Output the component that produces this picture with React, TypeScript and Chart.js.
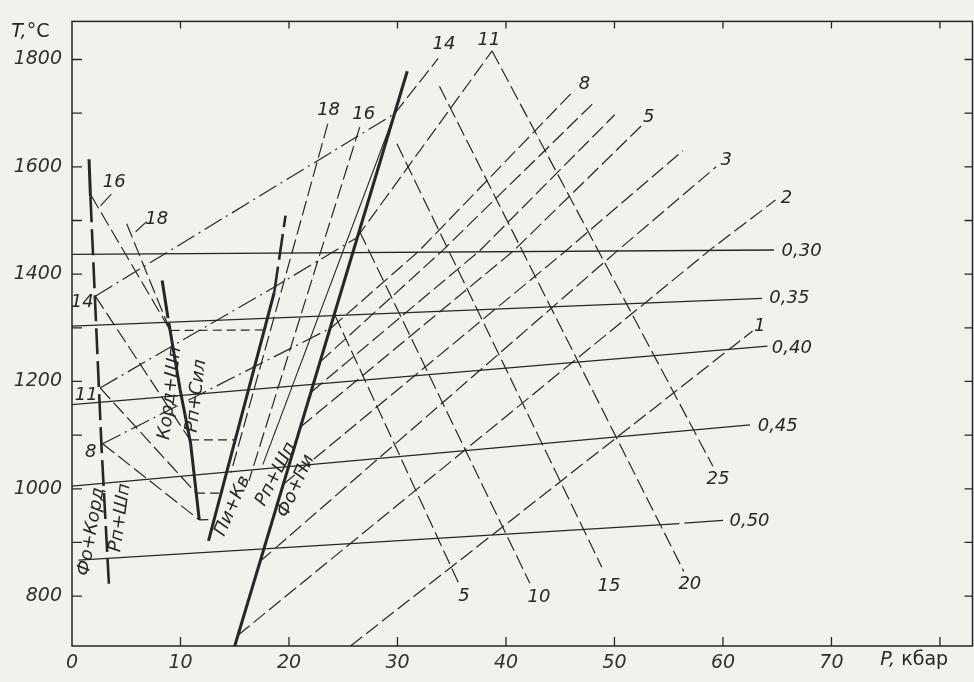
import React, { useEffect, useRef } from 'react';
import { Chart, registerables } from 'chart.js';

Chart.register(...registerables);

type Pt = [number, number];

// ---- axes ----
const X_MIN = 0;
const X_MAX = 83;
const Y_MIN = 707;
const Y_MAX = 1871;
const X_TICK_LABELS = [0, 10, 20, 30, 40, 50, 60, 70];
const X_MINOR_TICKS = [10, 20, 30, 40, 50, 60, 70, 80];
const Y_TICK_LABELS = [800, 1000, 1200, 1400, 1600, 1800];
const Y_MINOR_TICKS = [800, 900, 1000, 1100, 1200, 1300, 1400, 1500, 1600, 1700, 1800];

// ---- isolines (solid, labelled 0,30 ... 0,50) ----
const ISO_030: Pt[] = [[0, 1437], [64.7, 1445]];
const ISO_035: Pt[] = [[0, 1303], [63.6, 1355]];
const ISO_040: Pt[] = [[0, 1157], [64.1, 1266]];
const ISO_045: Pt[] = [[0, 1005], [62.5, 1119]];
const ISO_050: Pt[] = [[0.6, 867], [55.98, 935]];
const ISO_050_END: Pt[] = [[56.44, 936], [60.0, 941]];

// ---- thick boundaries ----
const BND_FO_PI: Pt[] = [[15.0, 707], [30.9, 1778]];
const BND_PI_KV: Pt[] = [[12.58, 903], [18.64, 1366]];
const BND_PI_KV_TOP: Pt[] = [[18.64, 1366], [19.68, 1509]];
const BND_KORD_TOP: Pt[] = [[8.31, 1388], [8.85, 1318]];
const BND_KORD: Pt[] = [[8.92, 1310], [9.97, 1184], [10.93, 1085], [11.73, 942]];
const BND_FO_KORD_TOP: Pt[] = [[1.57, 1614], [1.70, 1545]];
const BND_FO_KORD: Pt[] = [[1.70, 1545], [2.73, 1074], [3.40, 823]];

// ---- dash-dot isopleths ----
const DD_14: Pt[] = [[2.15, 1359], [29.74, 1699]];
const DD_11: Pt[] = [[2.59, 1188], [18.73, 1377], [26.25, 1468]];
const DD_8: Pt[] = [[2.82, 1084], [23.9, 1300]];

// ---- left fan (dashed) ----
const LD_16: Pt[] = [[1.75, 1547], [9.0, 1297]];
const LD_18: Pt[] = [[5.04, 1494], [9.0, 1297]];
const LD_14: Pt[] = [[2.15, 1359], [10.88, 1091]];
const LD_11: Pt[] = [[2.59, 1188], [11.44, 992]];
const LD_8: Pt[] = [[2.82, 1084], [11.73, 942]];

// ---- short horizontal dashed links ----
const HD_16: Pt[] = [[9.1, 1295], [17.75, 1296]];
const HD_14: Pt[] = [[10.88, 1091], [14.99, 1091]];
const HD_11: Pt[] = [[11.44, 992], [13.74, 992]];
const HD_8: Pt[] = [[11.73, 942], [13.12, 943]];

// ---- steep lines between boundaries ----
const F_18: Pt[] = [[23.57, 1680], [14.65, 1030]];
const F_16: Pt[] = [[26.52, 1674], [16.31, 1015]];
const S_1: Pt[] = [[29.74, 1699], [17.59, 1045]];

// ---- rising dashed isopleths (1 ... 14) ----
const B_1: Pt[] = [[25.67, 707], [62.73, 1294]];
const B_2: Pt[] = [[15.3, 727], [58.98, 1448], [64.84, 1538]];
const B_3: Pt[] = [[17.3, 864], [50.41, 1446], [59.37, 1600]];
const B_4: Pt[] = [[19.45, 1008], [45.61, 1445], [56.31, 1630]];
const B_5: Pt[] = [[21.06, 1115], [40.73, 1444], [52.61, 1679]];
const B_6: Pt[] = [[22.04, 1180], [37.6, 1444], [50.02, 1697]];
const B_7: Pt[] = [[22.85, 1236], [34.1, 1443], [48.17, 1721]];
const B_8: Pt[] = [[23.9, 1300], [31.97, 1443], [46.31, 1743]];
const B_11: Pt[] = [[26.25, 1468], [38.72, 1816]];
const B_14: Pt[] = [[29.74, 1699], [33.75, 1802]];

// ---- falling dashed isopleths (5 ... 25) ----
const C_25: Pt[] = [[38.72, 1816], [59.07, 1042]];
const C_20: Pt[] = [[33.87, 1750], [56.39, 846]];
const C_15: Pt[] = [[29.95, 1643], [48.83, 854]];
const C_10: Pt[] = [[26.5, 1480], [42.2, 824]];
const C_5: Pt[] = [[24.2, 1325], [35.66, 823]];

// ---- leaders ----
const LEAD_16: Pt[] = [[2.62, 1527], [3.63, 1549]];
const LEAD_18: Pt[] = [[5.87, 1479], [6.88, 1498]];

const INK = '#262626';
const BG = '#f2f2ed';

const STYLE: Record<string, { w: number; dash: number[] }> = {
  iso: { w: 1.3, dash: [] },
  thick: { w: 3, dash: [] },
  thickDash: { w: 2.6, dash: [26, 7] },
  dash: { w: 1.2, dash: [15, 5] },
  dashDot: { w: 1.2, dash: [20, 5, 2, 5] },
  thin: { w: 1.1, dash: [] },
  shortDash: { w: 1.2, dash: [9, 5] },
};

const LINES: [Pt[], string][] = [
  [ISO_030, 'iso'], [ISO_035, 'iso'], [ISO_040, 'iso'], [ISO_045, 'iso'], [ISO_050, 'iso'], [ISO_050_END, 'iso'],
  [BND_FO_PI, 'thick'], [BND_PI_KV, 'thick'], [BND_PI_KV_TOP, 'thickDash'],
  [BND_KORD_TOP, 'thick'], [BND_KORD, 'thick'], [BND_FO_KORD_TOP, 'thick'], [BND_FO_KORD, 'thickDash'],
  [DD_14, 'dashDot'], [DD_11, 'dashDot'], [DD_8, 'dashDot'],
  [LD_16, 'dash'], [LD_18, 'dash'], [LD_14, 'dash'], [LD_11, 'dash'], [LD_8, 'dash'],
  [HD_16, 'shortDash'], [HD_14, 'shortDash'], [HD_11, 'shortDash'], [HD_8, 'shortDash'],
  [F_18, 'dash'], [F_16, 'dash'], [S_1, 'thin'],
  [B_1, 'dash'], [B_2, 'dash'], [B_3, 'dash'], [B_4, 'dash'], [B_5, 'dash'], [B_6, 'dash'],
  [B_7, 'dash'], [B_8, 'dash'], [B_11, 'dash'], [B_14, 'dash'],
  [C_25, 'dash'], [C_20, 'dash'], [C_15, 'dash'], [C_10, 'dash'], [C_5, 'dash'],
  [LEAD_16, 'thin'], [LEAD_18, 'thin'],
];

const ISO_LABELS: [string, number, number][] = [
  ['0,30', 65.4, 1443], ['0,35', 64.27, 1355], ['0,40', 64.5, 1262],
  ['0,45', 63.2, 1117], ['0,50', 60.6, 940],
];
const NUM_LABELS: [string, number, number][] = [
  ['14', 34.29, 1829], ['11', 38.43, 1835], ['8', 47.23, 1753], ['5', 53.16, 1692],
  ['3', 60.3, 1612], ['2', 65.85, 1542], ['1', 63.38, 1303], ['25', 59.54, 1018],
  ['20', 56.95, 822], ['15', 49.49, 818], ['10', 43.04, 797], ['5', 36.13, 799],
  ['18', 23.65, 1706], ['16', 26.88, 1697], ['16', 3.9, 1572], ['18', 7.8, 1502],
  ['14', 0.95, 1348], ['11', 1.31, 1174], ['8', 1.72, 1067],
];
const FIELD_LABELS: [string, number, number, number][] = [
  ['Фо+Корд', 1.79, 920, -80], ['Рп+Шп', 4.45, 946, -82], ['Корд+Шп', 9.05, 1178, -83],
  ['Рп+Сил', 11.45, 1173, -83], ['Пи+Кв', 14.8, 968, -66], ['Рп+Шп', 18.8, 1027, -63],
  ['Фо+Пи', 20.65, 1005, -66],
];

const FAMILY = '"DejaVu Sans", sans-serif';

const decor = {
  id: 'decor',
  beforeDraw(chart: any) {
    const { ctx } = chart;
    ctx.save();
    ctx.fillStyle = BG;
    ctx.fillRect(0, 0, chart.width, chart.height);
    ctx.restore();
  },
  afterDatasetsDraw(chart: any) {
    const { ctx, chartArea: a } = chart;
    const xs = chart.scales.x;
    const ys = chart.scales.y;
    ctx.save();
    ctx.strokeStyle = INK;
    ctx.lineWidth = 1.5;
    ctx.setLineDash([]);
    ctx.strokeRect(a.left, a.top, a.right - a.left, a.bottom - a.top);
    ctx.lineWidth = 1.3;
    ctx.beginPath();
    for (const v of Y_MINOR_TICKS) {
      const y = ys.getPixelForValue(v);
      ctx.moveTo(a.left, y); ctx.lineTo(a.left + 10, y);
      ctx.moveTo(a.right, y); ctx.lineTo(a.right - 8, y);
    }
    for (const v of X_MINOR_TICKS) {
      const x = xs.getPixelForValue(v);
      ctx.moveTo(x, a.bottom); ctx.lineTo(x, a.bottom - 9);
      ctx.moveTo(x, a.top); ctx.lineTo(x, a.top + 7);
    }
    ctx.stroke();

    ctx.fillStyle = INK;
    ctx.textBaseline = 'middle';
    ctx.font = `italic 18px ${FAMILY}`;
    ctx.textAlign = 'left';
    for (const [t, p, T] of ISO_LABELS) {
      ctx.fillText(t, xs.getPixelForValue(p), ys.getPixelForValue(T));
    }
    ctx.textAlign = 'center';
    for (const [t, p, T] of NUM_LABELS) {
      ctx.fillText(t, xs.getPixelForValue(p), ys.getPixelForValue(T));
    }
    for (const [t, p, T, r] of FIELD_LABELS) {
      ctx.save();
      ctx.translate(xs.getPixelForValue(p), ys.getPixelForValue(T));
      ctx.rotate((r * Math.PI) / 180);
      ctx.fillText(t, 0, 0);
      ctx.restore();
    }
    ctx.textAlign = 'left';
    const tx = xs.getPixelForValue(-5.6);
    const ty = ys.getPixelForValue(1851);
    ctx.font = `italic 19px ${FAMILY}`;
    ctx.fillText('T,', tx, ty);
    const w1 = ctx.measureText('T,').width;
    ctx.font = `19px ${FAMILY}`;
    ctx.fillText('°C', tx + w1, ty);
    const px = xs.getPixelForValue(74.5);
    const py = ys.getPixelForValue(680);
    ctx.font = `italic 19px ${FAMILY}`;
    ctx.fillText('P,', px, py);
    const w2 = ctx.measureText('P, ').width;
    ctx.font = `19px ${FAMILY}`;
    ctx.fillText('кбар', px + w2, py);
    ctx.restore();
  },
};

export default function App() {
  const ref = useRef<HTMLCanvasElement | null>(null);
  useEffect(() => {
    if (!ref.current) return;
    const datasets = LINES.map(([pts, kind]) => ({
      type: 'line' as const,
      data: pts.map(([x, y]) => ({ x, y })),
      borderColor: INK,
      borderWidth: STYLE[kind].w,
      borderDash: STYLE[kind].dash,
      borderCapStyle: 'butt' as const,
      pointRadius: 0,
      fill: false,
      tension: 0,
    }));
    const tickFont = { family: 'DejaVu Sans', size: 19, style: 'italic' as const };
    const chart = new Chart(ref.current, {
      type: 'line',
      data: { datasets },
      options: {
        animation: false,
        responsive: false,
        events: [],
        layout: { padding: { top: 21, right: 1.5, left: 0, bottom: 0 } },
        plugins: { legend: { display: false }, tooltip: { enabled: false } },
        scales: {
          x: {
            type: 'linear',
            min: X_MIN,
            max: X_MAX,
            grid: { display: false, drawTicks: false },
            border: { display: false },
            ticks: {
              font: tickFont, color: '#303030', padding: 6, maxRotation: 0, autoSkip: false,
              callback: (v: any) => String(v),
            },
            afterBuildTicks: (s: any) => { s.ticks = X_TICK_LABELS.map((value) => ({ value })); },
            afterFit: (s: any) => { s.height = 36; },
          },
          y: {
            type: 'linear',
            min: Y_MIN,
            max: Y_MAX,
            grid: { display: false, drawTicks: false },
            border: { display: false },
            ticks: {
              font: tickFont, color: '#303030', padding: 10, autoSkip: false,
              callback: (v: any) => String(v),
            },
            afterBuildTicks: (s: any) => { s.ticks = Y_TICK_LABELS.map((value) => ({ value })); },
            afterFit: (s: any) => { s.width = 72; },
          },
        },
      },
      plugins: [decor],
    });
    return () => chart.destroy();
  }, []);
  return (
    <div style={{ position: 'fixed', left: 0, top: 0, width: 974, height: 682, background: BG }}>
      <canvas ref={ref} width={974} height={682} style={{ display: 'block' }} />
    </div>
  );
}
